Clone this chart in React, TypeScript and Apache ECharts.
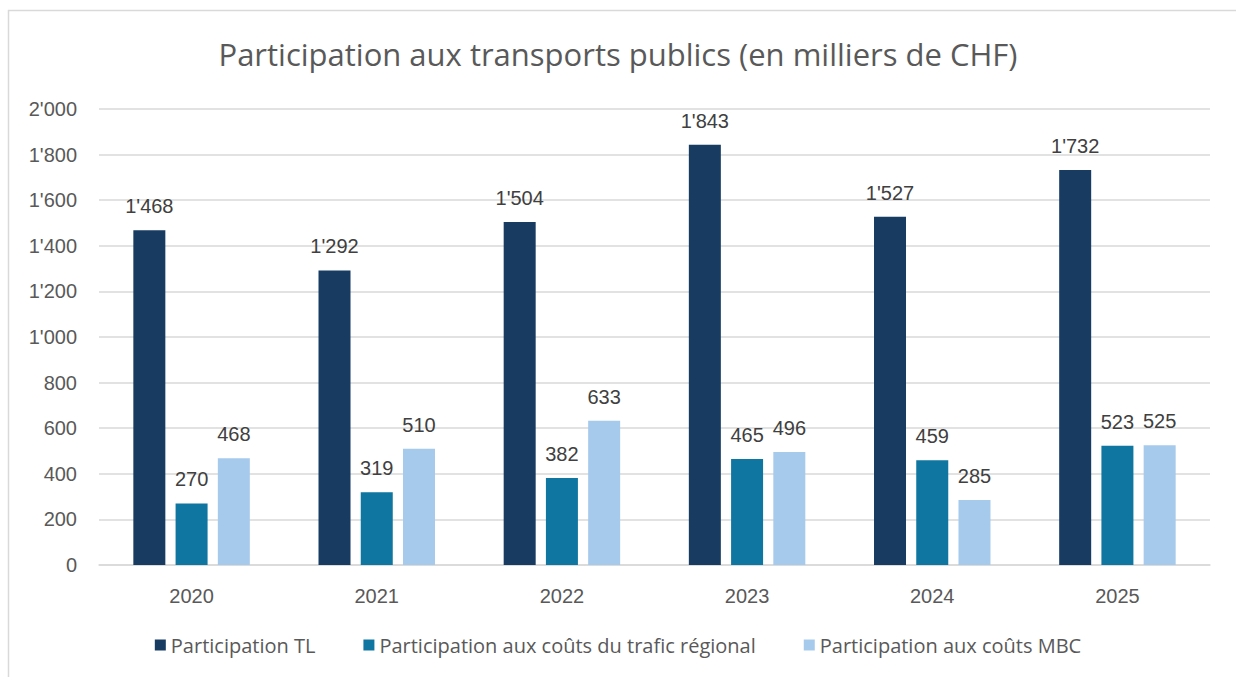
import React, { useEffect, useRef } from "react";
import * as echarts from "echarts";

const categories = ["2020", "2021", "2022", "2023", "2024", "2025"];
const participationTL = [1468, 1292, 1504, 1843, 1527, 1732];
const traficRegional = [270, 319, 382, 465, 459, 523];
const coutsMBC = [468, 510, 633, 496, 285, 525];
const seriesNames = [
  "Participation TL",
  "Participation aux coûts du trafic régional",
  "Participation aux coûts MBC",
];
const colors = ["#173B61", "#0E76A0", "#A6CAEC"];

const fmt = (v: number) => {
  const s = String(Math.round(v));
  return s.replace(/\B(?=(\d{3})+(?!\d))/g, "'");
};

export default function App() {
  const ref = useRef<HTMLDivElement>(null);
  useEffect(() => {
    document.body.style.margin = "0";
    const chart = echarts.init(ref.current!, null, { renderer: "svg" });
    const labelCfg = {
      show: true,
      position: "top" as const,
      distance: 14,
      color: "#404040",
      fontSize: 20,
      fontFamily: "Liberation Sans",
      formatter: (p: any) => fmt(p.value),
    };
    const mk = (i: number, data: number[]) => ({
      name: seriesNames[i],
      type: "bar" as const,
      data,
      barWidth: 32,
      barGap: "32%",
      itemStyle: { color: colors[i] },
      label: labelCfg,
    });
    chart.setOption({
      animation: false,
      backgroundColor: "#ffffff",
      graphic: [
        {
          type: "rect",
          shape: { x: 8.5, y: 10.5, width: 1260, height: 720 },
          style: { fill: "none", stroke: "#d9d9d9", lineWidth: 1.5 },
          silent: true,
          z: -1,
        },
      ],
      title: {
        text: "Participation aux transports publics (en milliers de CHF)",
        left: "center",
        top: 33,
        textStyle: {
          color: "#595959",
          fontSize: 31,
          fontWeight: "normal",
          fontFamily: "Open Sans",
        },
      },
      legend: {
        bottom: 17,
        left: "center",
        itemWidth: 11,
        itemHeight: 11,
        itemGap: 48,
        icon: "rect",
        textStyle: {
          color: "#595959",
          fontSize: 20,
          fontFamily: "Open Sans",
        },
        data: seriesNames,
      },
      grid: { left: 99, right: 26, top: 109, bottom: 112 },
      xAxis: {
        type: "category",
        data: categories,
        axisTick: { show: false },
        axisLine: { lineStyle: { color: "#d9d9d9", width: 1.5 } },
        axisLabel: {
          color: "#595959",
          fontSize: 20,
          fontFamily: "Liberation Sans",
          margin: 21,
        },
      },
      yAxis: {
        type: "value",
        min: 0,
        max: 2000,
        interval: 200,
        axisLine: { show: false },
        axisTick: { show: false },
        splitLine: { lineStyle: { color: "#d9d9d9", width: 1.5 } },
        axisLabel: {
          color: "#595959",
          fontSize: 20,
          fontFamily: "Liberation Sans",
          margin: 22,
          formatter: (v: number) => fmt(v),
        },
      },
      series: [
        mk(0, participationTL),
        mk(1, traficRegional),
        mk(2, coutsMBC),
      ],
    });
    return () => chart.dispose();
  }, []);
  return (
    <div
      ref={ref}
      style={{ position: "fixed", left: 0, top: 0, width: 1236, height: 677 }}
    />
  );
}
